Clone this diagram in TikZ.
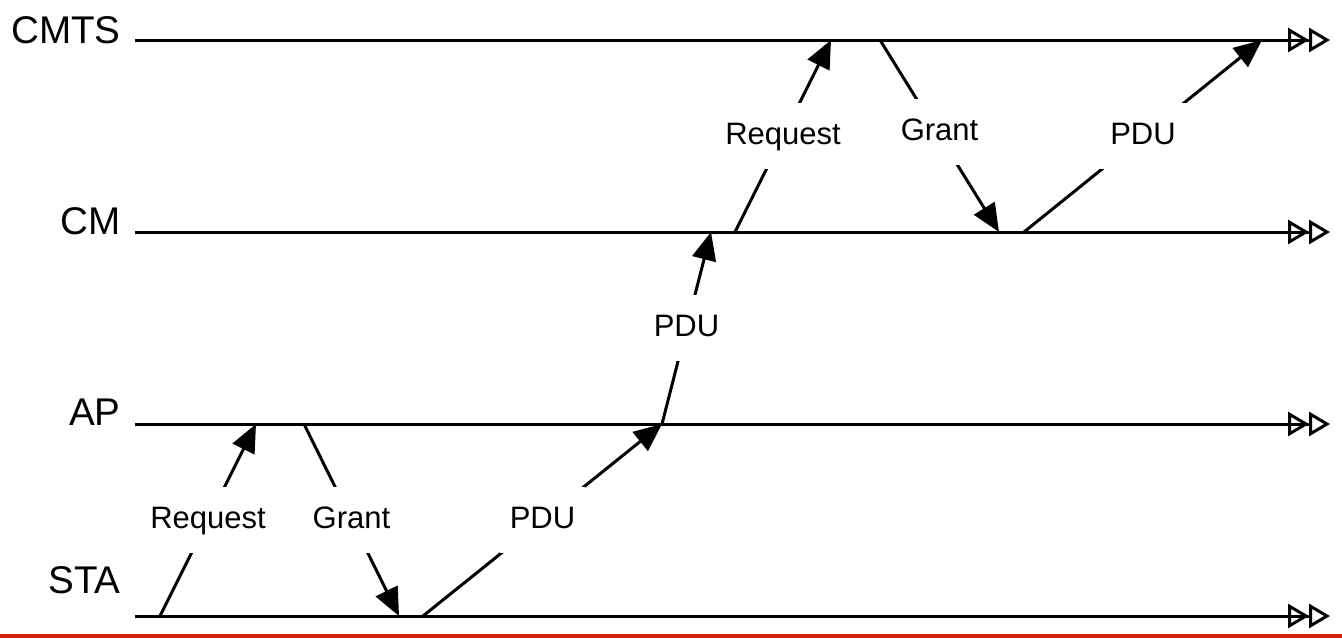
\documentclass[tikz,border=0pt]{standalone}
\usepackage{fontspec}
\setmainfont{Liberation Sans}
\usepackage{xcolor}
\usepackage{tikz}
\usetikzlibrary{arrows.meta, positioning}
\definecolor{barred}{RGB}{214, 36, 10}
\newcommand{\msgfont}{\fontsize{15.5}{18}\selectfont}
\newcommand{\entfont}{\fontsize{19.3}{22}\selectfont}

\begin{document}
\begin{tikzpicture}[
  x=0.5pt, y=-0.5pt,
  timeline/.style={line width=1.5pt,
    -{Triangle[open, length=10.5pt, width=12pt, sep=0pt] Triangle[open, length=10.5pt, width=12pt]}},
  msg/.style={line width=1.5pt, -{Triangle[length=14pt, width=12pt]}},
  msglabel/.style={midway, fill=white, font=\msgfont, text height=11pt, text depth=3pt,
    inner xsep=5pt, inner ysep=9.5pt},
  entity/.style={anchor=base east, inner sep=0, font=\entfont},
]
\useasboundingbox (0,0) rectangle (1342,638);

% Bottom rule
\fill[barred] (0,634) rectangle (1342,638);

% ==================== Entities ====================
\node[entity] (cmts) at (121, 43) {CMTS};
\node[entity] (cm) at (121, 234) {CM};
\node[entity] (ap) at (121, 425) {AP};
\node[entity] (sta) at (121, 593) {STA};

\coordinate (cmtsL) at (135, 40);  \coordinate (cmtsR) at (1330, 40);
\coordinate (cmL) at (135, 232);   \coordinate (cmR) at (1330, 232);
\coordinate (apL) at (135, 424);   \coordinate (apR) at (1330, 424);
\coordinate (staL) at (135, 616);  \coordinate (staR) at (1330, 616);

\draw[timeline] (cmtsL) -- (cmtsR);
\draw[timeline] (cmL) -- (cmR);
\draw[timeline] (apL) -- (apR);
\draw[timeline] (staL) -- (staR);

% ==================== STA <-> AP ====================
\coordinate (staReq) at (160, 616);
\coordinate (apReq) at (256, 424);
\coordinate (apGnt) at (304, 424);
\coordinate (staGnt) at (399, 616);
\coordinate (staPdu) at (423, 616);
\coordinate (apPdu) at (662, 424);

\draw[msg] (staReq) -- node[msglabel] (reqA) {Request} (apReq);
\draw[msg] (apGnt) -- node[msglabel] (gntA) {Grant} (staGnt);
\draw[msg] (staPdu) -- node[msglabel] (pduA) {PDU} (apPdu);

% ==================== AP -> CM ====================
\coordinate (cmPdu) at (711, 232);

\draw[msg] (apPdu) -- node[msglabel] (pduB) {PDU} (cmPdu);

% ==================== CM <-> CMTS ====================
\coordinate (cmReq) at (735, 232);
\coordinate (cmtsReq) at (831, 40);
\coordinate (cmtsGnt) at (880, 40);
\coordinate (cmGnt) at (999, 232);
\coordinate (cmPduUp) at (1024, 232);
\coordinate (cmtsPdu) at (1262, 40);

\draw[msg] (cmReq) -- node[msglabel] (reqC) {Request} (cmtsReq);
\draw[msg] (cmtsGnt) -- node[msglabel, yshift=2pt] (gntC) {Grant} (cmGnt);
\draw[msg] (cmPduUp) -- node[msglabel] (pduC) {PDU} (cmtsPdu);

\end{tikzpicture}
\end{document}
